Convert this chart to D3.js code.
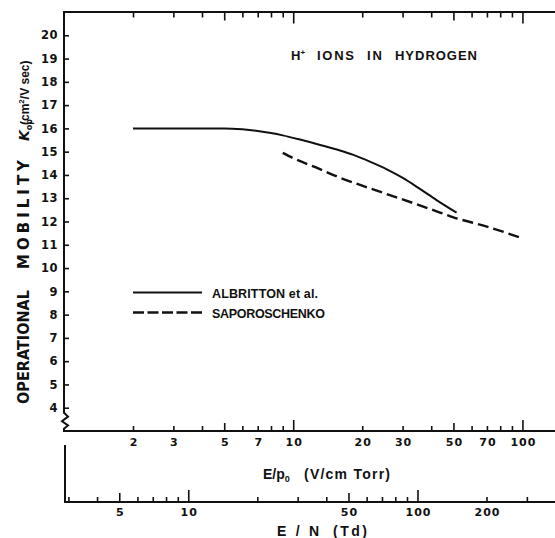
<!DOCTYPE html>
<html>
<head>
<meta charset="utf-8">
<script src="https://cdn.jsdelivr.net/npm/d3@7"></script>
<style>
  html, body { margin: 0; padding: 0; background: #fff; }
  svg { display: block; }
  text { font-family: "Liberation Sans", Arial, sans-serif; font-weight: bold; fill: #111; }
</style>
</head>
<body>
<svg id="chart" width="555" height="538"></svg>
<script>
// ---------------- data ----------------
const albrittonEp = [2, 3, 4, 5, 6, 7, 8, 9, 10.7, 13, 16, 18.3, 21.6, 25.6, 30.2, 35.7, 42.2, 51.6];
const albrittonK  = [16.0, 16.0, 16.0, 16.0, 15.96, 15.89, 15.80, 15.70, 15.52, 15.30, 15.05, 14.86, 14.57, 14.24, 13.86, 13.40, 12.92, 12.38];
const saporoEp = [9, 10, 13, 15, 20, 30, 40, 50, 70, 100];
const saporoK  = [14.95, 14.72, 14.26, 13.99, 13.54, 12.95, 12.52, 12.18, 11.78, 11.28];

const yTicks   = [4, 5, 6, 7, 8, 9, 10, 11, 12, 13, 14, 15, 16, 17, 18, 19, 20];
const epTicks  = [2, 3, 4, 5, 6, 7, 8, 9, 10, 20, 30, 40, 50, 60, 70, 80, 90, 100];
const epLabels = [2, 3, 5, 7, 10, 20, 30, 50, 70, 100];
const tdTicks  = [3, 4, 5, 6, 7, 8, 9, 10, 20, 30, 40, 50, 60, 70, 80, 90, 100, 200, 300];
const tdLabels = [5, 10, 50, 100, 200];

const seriesNames = ["ALBRITTON et al.", "SAPOROSCHENKO"];
const titleWords = ["H", "IONS", "IN", "HYDROGEN"];

// ---------------- layout ----------------
const L = 64, R = 555, T = 12, B = 431;
const tdY = 502;
const svg = d3.select("#chart");
const DV = "'DejaVu Sans', 'Liberation Sans', sans-serif";

const x = d3.scaleLog().domain([1, 138.7]).range([L, R]);
const xTd = d3.scaleLog().domain([2.87, 398]).range([L, R]);
const y = d3.scaleLinear().domain([3, 21]).range([B, T]);

function tickLen(d) {
  const lg = Math.log10(d);
  if (Math.abs(lg - Math.round(lg)) < 1e-9) return 11;
  if (Math.abs(Math.log10(d / 5) - Math.round(Math.log10(d / 5))) < 1e-9) return 8;
  return 5;
}

// ---------------- frame / axis lines ----------------
const axisStroke = "#111";
svg.append("line").attr("x1", L).attr("x2", R).attr("y1", T).attr("y2", T)
  .attr("stroke", axisStroke).attr("stroke-width", 2);
svg.append("line").attr("x1", L).attr("x2", R).attr("y1", B).attr("y2", B)
  .attr("stroke", axisStroke).attr("stroke-width", 2);
svg.append("path")
  .attr("d", `M${L},${T - 1} L${L},${y(3.78)} L${L + 4},${y(3.62)} L${L - 2},${y(3.42)} L${L + 4},${y(3.24)} L${L},${y(3.1)} L${L},${B + 1}`)
  .attr("fill", "none").attr("stroke", axisStroke).attr("stroke-width", 2);

function styleText(sel, size, ls) {
  sel.attr("font-size", size).attr("letter-spacing", ls || 0)
    .style("font-family", DV).style("font-weight", "bold").attr("fill", "#111");
}

// bottom E/p0 axis
const gB = svg.append("g").attr("transform", `translate(0,${B})`)
  .call(d3.axisBottom(x).tickValues(epTicks).tickSizeInner(0).tickSizeOuter(0).tickPadding(7)
    .tickFormat(d => epLabels.includes(d) ? String(d) : ""));
gB.select(".domain").remove();
gB.selectAll(".tick line").attr("y2", d => -tickLen(d)).attr("stroke", axisStroke).attr("stroke-width", 1.6);
styleText(gB.selectAll(".tick text").attr("dx", 0.5), 11, 1);

// top axis (ticks only)
const gT = svg.append("g").attr("transform", `translate(0,${T})`)
  .call(d3.axisTop(x).tickValues(epTicks).tickSizeInner(0).tickSizeOuter(0).tickFormat(() => ""));
gT.select(".domain").remove();
gT.selectAll(".tick line").attr("y2", d => tickLen(d) + 0.5).attr("stroke", axisStroke).attr("stroke-width", 1.6);

// left axis
const gL = svg.append("g").attr("transform", `translate(${L},0)`)
  .call(d3.axisLeft(y).tickValues(yTicks).tickSizeInner(0).tickSizeOuter(0).tickPadding(6));
gL.select(".domain").remove();
gL.selectAll(".tick line").attr("x2", 5).attr("stroke", axisStroke).attr("stroke-width", 1.6);
styleText(gL.selectAll(".tick text"), 11.5, 0.5);

// E/N axis
svg.append("line").attr("x1", L).attr("x2", R).attr("y1", tdY).attr("y2", tdY)
  .attr("stroke", axisStroke).attr("stroke-width", 2);
svg.append("line").attr("x1", L + 1).attr("x2", L + 1).attr("y1", 445).attr("y2", tdY + 1)
  .attr("stroke", axisStroke).attr("stroke-width", 2);
const gN = svg.append("g").attr("transform", `translate(0,${tdY})`)
  .call(d3.axisBottom(xTd).tickValues(tdTicks).tickSizeInner(0).tickSizeOuter(0).tickPadding(6.5)
    .tickFormat(d => tdLabels.includes(d) ? String(d) : ""));
gN.select(".domain").remove();
gN.selectAll(".tick line").attr("y2", d => -(tickLen(d) + (tickLen(d) > 5 ? 1 : 0))).attr("stroke", axisStroke).attr("stroke-width", 1.6);
styleText(gN.selectAll(".tick text").attr("dx", 0.5), 11, 1);

// ---------------- curves ----------------
const line = d3.line().x(d => x(d[0])).y(d => y(d[1])).curve(d3.curveMonotoneX);
const albData = albrittonEp.map((e, i) => [e, albrittonK[i]]);
const sapData = saporoEp.map((e, i) => [e, saporoK[i]]);
svg.append("path").attr("d", line(albData)).attr("fill", "none")
  .attr("stroke", "#111").attr("stroke-width", 2);
svg.append("path").attr("d", line(sapData)).attr("fill", "none")
  .attr("stroke", "#111").attr("stroke-width", 2.4).attr("stroke-dasharray", "11,5");

// ---------------- legend ----------------
svg.append("line").attr("x1", 133).attr("x2", 202).attr("y1", 292.5).attr("y2", 292.5)
  .attr("stroke", "#111").attr("stroke-width", 2);
svg.append("line").attr("x1", 133).attr("x2", 202).attr("y1", 312.5).attr("y2", 312.5)
  .attr("stroke", "#111").attr("stroke-width", 2.4).attr("stroke-dasharray", "11,3.5");
svg.append("text").attr("x", 212).attr("y", 297.5).attr("font-size", 12.5)
  .attr("textLength", 106).attr("lengthAdjust", "spacing").text(seriesNames[0]);
svg.append("text").attr("x", 212).attr("y", 317.5).attr("font-size", 12.5)
  .attr("textLength", 113).attr("lengthAdjust", "spacing").text(seriesNames[1]);

// ---------------- title ----------------
const tH = svg.append("text").attr("x", 291).attr("y", 59.5).attr("font-size", 13);
tH.append("tspan").text(titleWords[0]);
tH.append("tspan").attr("dy", -5).attr("font-size", 8).text("+");
svg.append("text").attr("x", 317).attr("y", 59.5).attr("font-size", 13)
  .attr("textLength", 37).attr("lengthAdjust", "spacing").text(titleWords[1]);
svg.append("text").attr("x", 367).attr("y", 59.5).attr("font-size", 13)
  .attr("textLength", 15).attr("lengthAdjust", "spacing").text(titleWords[2]);
svg.append("text").attr("x", 395).attr("y", 59.5).attr("font-size", 13)
  .attr("textLength", 82).attr("lengthAdjust", "spacing").text(titleWords[3]);

// ---------------- axis titles ----------------
const yt = svg.append("g").attr("transform", "translate(28.5,0)");
yt.append("text").attr("transform", "translate(0,404) rotate(-90)").attr("font-size", 15)
  .style("font-family", DV)
  .attr("textLength", 114).attr("lengthAdjust", "spacingAndGlyphs").text("OPERATIONAL");
yt.append("text").attr("transform", "translate(0,269) rotate(-90)").attr("font-size", 15)
  .style("font-family", DV)
  .attr("textLength", 109).attr("lengthAdjust", "spacing").text("MOBILITY");
const kt = yt.append("text").attr("transform", "translate(0,141) rotate(-90)").attr("font-size", 14)
  .style("font-family", DV);
kt.append("tspan").style("font-style", "italic").text("K");
kt.append("tspan").attr("dy", 3).attr("font-size", 8).text("op");
const ut = yt.append("text").attr("transform", "translate(0,125) rotate(-90)").attr("font-size", 12);
ut.append("tspan").text("(cm");
ut.append("tspan").attr("dy", -5).attr("font-size", 8).text("2");
ut.append("tspan").attr("dy", 5).text("/V sec)");

const xe = svg.append("text").attr("x", 263).attr("y", 479).attr("font-size", 14);
xe.append("tspan").text("E/p");
xe.append("tspan").attr("dy", 3).attr("font-size", 9).text("0");
svg.append("text").attr("x", 304).attr("y", 479).attr("font-size", 14)
  .attr("textLength", 86).attr("lengthAdjust", "spacing").text("(V/cm Torr)");

svg.append("text").attr("x", 277).attr("y", 536).attr("font-size", 14)
  .attr("textLength", 42).attr("lengthAdjust", "spacing").text("E/N");
svg.append("text").attr("x", 333).attr("y", 536).attr("font-size", 14)
  .attr("textLength", 34).attr("lengthAdjust", "spacing").text("(Td)");
</script>
</body>
</html>
